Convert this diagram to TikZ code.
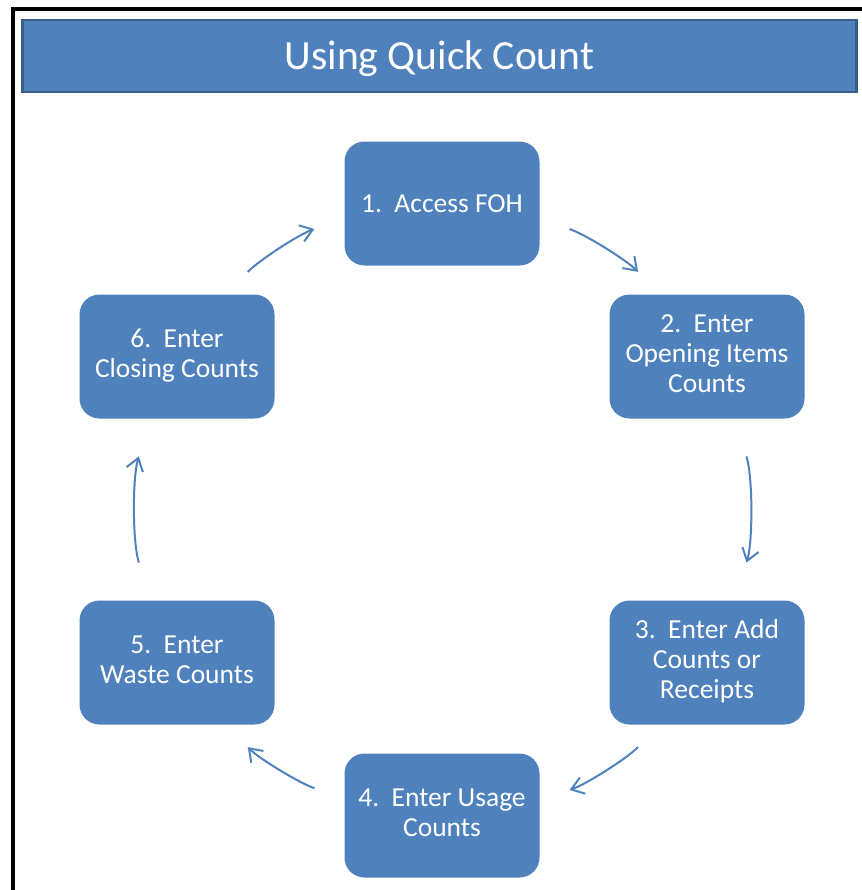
\documentclass[tikz,border=0pt]{standalone}
\usepackage{fontspec}
\setmainfont{Carlito}
\usetikzlibrary{matrix,arrows.meta}
\definecolor{qcblue}{RGB}{79,129,189}
\definecolor{qcedge}{RGB}{56,93,138}
\newcommand\steplines[1]{\begin{tabular}{@{}c@{}}#1\end{tabular}}

\begin{document}
\begin{tikzpicture}[x=1pt,y=1pt,>={Straight Barb[length=12pt,width=17pt]},
cyc/.style={->,draw=qcblue,line width=2pt,looseness=.865},
short/.style={shorten <=31.5pt,shorten >=31.5pt},
long/.style={shorten <=39.5pt,shorten >=39.5pt}]
\useasboundingbox (0,0) rectangle (861,-890);

% frame and title bar
\draw[line width=4pt] (13,-895) -- (13,-8.7) -- (866,-8.7);
\node[draw=qcedge,line width=2.5pt,fill=qcblue,text=white,inner sep=0pt,
minimum width=834pt,minimum height=72pt,text height=27pt,text depth=0pt,
font=\fontsize{41.5}{48}\selectfont]
(title) at (439.4,-55.8) {Using Quick Count};

\matrix [matrix of nodes,
column sep={265pt,between origins},
row sep={153pt,between origins},
nodes={anchor=center, fill=qcblue, text=white, rounded corners=20pt,
minimum width=195pt, minimum height=124pt, inner sep=0pt,
font=\fontsize{27.5}{30}\selectfont}]
at (442,-509.5)
{
& |(1)| 1.~~Access FOH & \\
|(6)| \steplines{6.~~Enter\\Closing Counts} & & |(2)| \steplines{2.~~Enter\\Opening Items\\Counts} \\
& & \\
|(5)| \steplines{5.~~Enter\\Waste Counts} & & |(3)| \steplines{3.~~Enter Add\\Counts or\\Receipts} \\
& |(4)| \steplines{4.~~Enter Usage\\Counts} & \\};

\draw[cyc,short] (1.-9.3) to[out=-18.6,in=134.6] (2.127.3);
\draw[cyc,long] (2.-66.3) to[out=-72.7,in=72.7] (3.66.3);
\draw[cyc,short] (3.-127.3) to[out=-134.6,in=18.6] (4.9.3);
\draw[cyc,short] (4.170.7) to[out=161.4,in=-45.4] (5.-52.7);
\draw[cyc,long] (5.113.7) to[out=107.3,in=-107.3] (6.-113.7);
\draw[cyc,short] (6.52.7) to[out=45.4,in=-161.4] (1.189.3);

\end{tikzpicture}
\end{document}
